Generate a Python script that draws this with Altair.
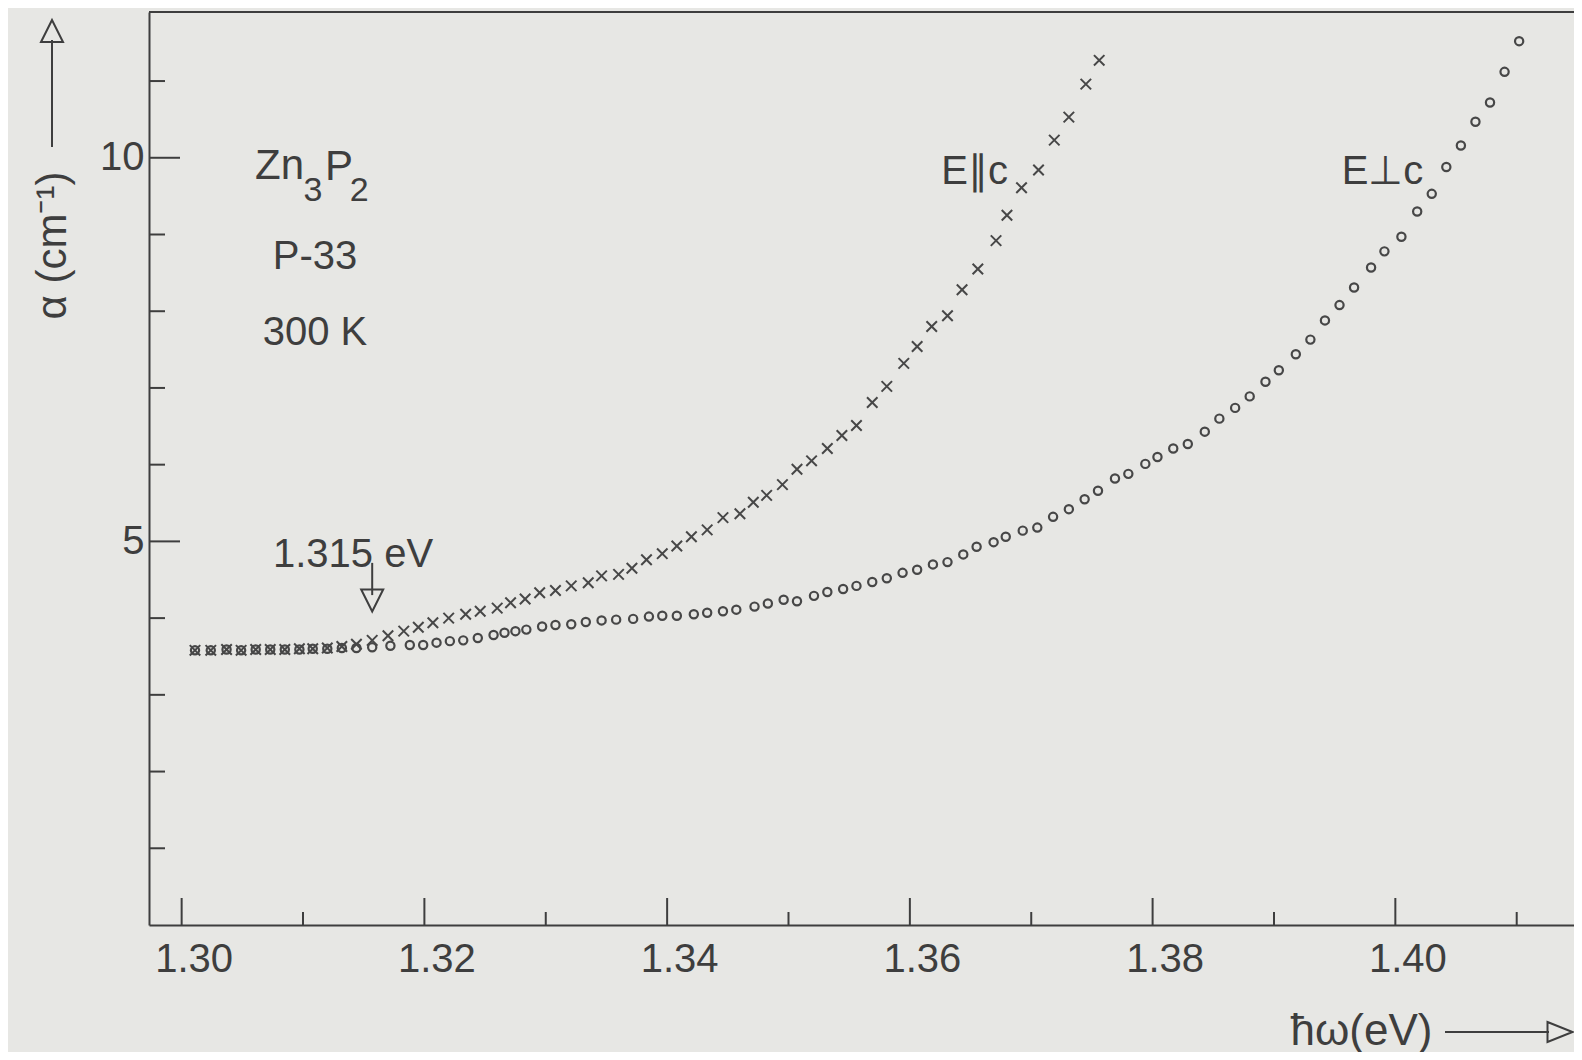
import altair as alt
import pandas as pd

# ---------------- data ----------------
# E || c  (crosses)
par_x = [1.3011, 1.3024, 1.3037, 1.3049, 1.3061, 1.3073, 1.3085, 1.3097, 1.3108, 1.3120,
         1.3132, 1.3144, 1.3157, 1.3170, 1.3183, 1.3195, 1.3207, 1.3220, 1.3234, 1.3246,
         1.3260, 1.3271, 1.3283, 1.3295, 1.3308, 1.3321, 1.3335, 1.3346, 1.3360, 1.3371,
         1.3383, 1.3396, 1.3408, 1.3420, 1.3433, 1.3446, 1.3460, 1.3471, 1.3482, 1.3495,
         1.3507, 1.3519, 1.3532, 1.3544, 1.3556, 1.3569, 1.3581, 1.3595, 1.3606, 1.3618,
         1.3631, 1.3643, 1.3656, 1.3671, 1.3680, 1.3692, 1.3706, 1.3719, 1.3731, 1.3745,
         1.3756]
par_y = [3.58, 3.58, 3.59, 3.58, 3.59, 3.59, 3.59, 3.60, 3.60, 3.61,
         3.63, 3.66, 3.71, 3.77, 3.83, 3.88, 3.94, 4.00, 4.05, 4.09,
         4.13, 4.20, 4.25, 4.33, 4.36, 4.42, 4.46, 4.55, 4.57, 4.65,
         4.76, 4.84, 4.94, 5.06, 5.15, 5.31, 5.36, 5.51, 5.60, 5.74,
         5.94, 6.05, 6.21, 6.38, 6.51, 6.81, 7.02, 7.32, 7.54, 7.80,
         7.94, 8.28, 8.55, 8.92, 9.25, 9.61, 9.84, 10.23, 10.53, 10.96,
         11.27]

# E _|_ c  (circles)
perp_x = [1.3011, 1.3024, 1.3037, 1.3049, 1.3061, 1.3073, 1.3085, 1.3097, 1.3108, 1.3120,
          1.3132, 1.3144, 1.3157, 1.3172, 1.3188, 1.3199, 1.3210, 1.3221, 1.3232, 1.3244,
          1.3257, 1.3266, 1.3275, 1.3284, 1.3297, 1.3308, 1.3321, 1.3333, 1.3346, 1.3358,
          1.3372, 1.3385, 1.3396, 1.3408, 1.3422, 1.3433, 1.3446, 1.3457, 1.3472, 1.3483,
          1.3496, 1.3507, 1.3521, 1.3532, 1.3545, 1.3556, 1.3569, 1.3581, 1.3594, 1.3606,
          1.3619, 1.3631, 1.3644, 1.3655, 1.3669, 1.3679, 1.3693, 1.3705, 1.3718, 1.3731,
          1.3744, 1.3755, 1.3769, 1.3780, 1.3794, 1.3804, 1.3817, 1.3829, 1.3843, 1.3855,
          1.3868, 1.3880, 1.3893, 1.3904, 1.3918, 1.3930, 1.3942, 1.3954, 1.3966, 1.3980,
          1.3991, 1.4005, 1.4018, 1.4030, 1.4042, 1.4054, 1.4066, 1.4078, 1.4090, 1.4102]
perp_y = [3.58, 3.58, 3.59, 3.58, 3.59, 3.59, 3.59, 3.59, 3.60, 3.60,
          3.61, 3.61, 3.62, 3.64, 3.65, 3.65, 3.68, 3.70, 3.71, 3.74,
          3.78, 3.81, 3.83, 3.85, 3.89, 3.91, 3.92, 3.95, 3.97, 3.98,
          3.99, 4.02, 4.03, 4.03, 4.05, 4.07, 4.09, 4.11, 4.15, 4.19,
          4.24, 4.22, 4.29, 4.34, 4.38, 4.42, 4.47, 4.52, 4.59, 4.63,
          4.70, 4.73, 4.83, 4.93, 4.99, 5.06, 5.14, 5.18, 5.32, 5.42,
          5.55, 5.66, 5.82, 5.88, 6.01, 6.10, 6.21, 6.27, 6.43, 6.60,
          6.74, 6.89, 7.08, 7.23, 7.44, 7.63, 7.88, 8.08, 8.31, 8.57,
          8.78, 8.97, 9.30, 9.53, 9.88, 10.16, 10.47, 10.72, 11.12, 11.52]

# axis ticks
x_ticks_major = [1.30, 1.32, 1.34, 1.36, 1.38, 1.40]
x_ticks_minor = [1.31, 1.33, 1.35, 1.37, 1.39, 1.41]
y_ticks_major = [5, 10]
y_ticks_minor = [1, 2, 3, 4, 6, 7, 8, 9, 11]

# annotations (data coordinates)
ann_text = ["P-33", "300 K", "1.315 eV", "E\u2225c", "E\u22a5c"]
ann_x = [1.31099, 1.31099, 1.31412, 1.36533, 1.39894]
ann_y = [8.544, 7.566, 4.671, 9.652, 9.652]

formula_main = ["Zn", "P"]
formula_main_x = [1.30605, 1.31182]
formula_main_y = [9.717, 9.704]
formula_sub = ["3", "2"]
formula_sub_x = [1.31005, 1.31385]
formula_sub_y = [9.440, 9.440]

marker_x = [1.3157]
marker_y_top = [4.72]
marker_y_bot = [4.30]
marker_head_y = [4.23]

# ---------------- styling ----------------
W, H = 1425, 913
BG = "#e7e7e4"
INK = "#3e3e3e"
MARK = "#474747"
FONT = "Liberation Sans"

xs = alt.Scale(domain=[1.29731, 1.41472], nice=False, zero=False)
ys = alt.Scale(domain=[0, 11.9], nice=False, zero=False)

par_df = pd.DataFrame({"x": par_x, "y": par_y})
perp_df = pd.DataFrame({"x": perp_x, "y": perp_y})
one = pd.DataFrame({"a": [0]})

x_axis = alt.Axis(values=x_ticks_major, format=".2f", title="\u0127\u03c9(eV)",
                  labelFontSize=40, labelPadding=14, labelOffset=12, labelFlush=False,
                  titleFontSize=44, titleX=1212, titleY=106, titleAlign="center",
                  titleBaseline="middle", titleAnchor="start")
y_axis = alt.Axis(values=y_ticks_major, format="d", title="\u03b1 (cm\u207b\u00b9)",
                  labelFontSize=40, labelPadding=5, labelFlush=False,
                  titleFontSize=42, titleAngle=270, titleX=-97, titleY=233,
                  titleAlign="center", titleBaseline="middle", titleAnchor="start")


def X(field):
    return alt.X(field, scale=xs, axis=x_axis)


def Y(field):
    return alt.Y(field, scale=ys, axis=y_axis)


crosses = alt.Chart(par_df).mark_point(
    shape="M-1,-1L1,1M-1,1L1,-1", filled=False, size=110, strokeWidth=2,
    color=MARK, opacity=1
).encode(x=X("x:Q"), y=Y("y:Q"))

circles = alt.Chart(perp_df).mark_point(
    shape="circle", filled=False, size=68, strokeWidth=2.2, color=MARK, opacity=1
).encode(x=X("x:Q"), y=Y("y:Q"))

top_border = alt.Chart(one).mark_rule(color=INK, strokeWidth=2).encode(
    x=alt.value(0), x2=alt.value(W), y=alt.value(0))

xt_major = alt.Chart(pd.DataFrame({"x": x_ticks_major})).mark_rule(color=INK, strokeWidth=2).encode(
    x=X("x:Q"), y=alt.value(H), y2=alt.value(H - 27))
xt_minor = alt.Chart(pd.DataFrame({"x": x_ticks_minor})).mark_rule(color=INK, strokeWidth=2).encode(
    x=X("x:Q"), y=alt.value(H), y2=alt.value(H - 13))
yt_major = alt.Chart(pd.DataFrame({"y": y_ticks_major})).mark_rule(color=INK, strokeWidth=2).encode(
    y=Y("y:Q"), x=alt.value(0), x2=alt.value(31))
yt_minor = alt.Chart(pd.DataFrame({"y": y_ticks_minor})).mark_rule(color=INK, strokeWidth=2).encode(
    y=Y("y:Q"), x=alt.value(0), x2=alt.value(16))

ann = alt.Chart(pd.DataFrame({"t": ann_text, "x": ann_x, "y": ann_y})).mark_text(
    font=FONT, fontSize=40, color=INK, align="center", baseline="alphabetic"
).encode(x=X("x:Q"), y=Y("y:Q"), text="t:N")

f_main = alt.Chart(pd.DataFrame({"t": formula_main, "x": formula_main_x, "y": formula_main_y})).mark_text(
    font=FONT, fontSize=42, color=INK, align="left", baseline="alphabetic"
).encode(x=X("x:Q"), y=Y("y:Q"), text="t:N")

f_sub = alt.Chart(pd.DataFrame({"t": formula_sub, "x": formula_sub_x, "y": formula_sub_y})).mark_text(
    font=FONT, fontSize=34, color=INK, align="left", baseline="alphabetic"
).encode(x=X("x:Q"), y=Y("y:Q"), text="t:N")

mk_df = pd.DataFrame({"x": marker_x, "y": marker_y_top, "y2": marker_y_bot, "yh": marker_head_y})
mk_line = alt.Chart(mk_df).mark_rule(color=INK, strokeWidth=2).encode(
    x=X("x:Q"), y=Y("y:Q"), y2="y2:Q")
mk_head = alt.Chart(mk_df).mark_point(
    shape="M-1,-1L0,1L1,-1Z", filled=False, size=484, strokeWidth=2, color=INK, opacity=1
).encode(x=X("x:Q"), y=Y("yh:Q"))

# axis-title arrows
xa_line = alt.Chart(one).mark_rule(color=INK, strokeWidth=2).encode(
    x=alt.value(1296), x2=alt.value(1400), y=alt.value(1020))
xa_head = alt.Chart(one).mark_point(
    shape="M-1,-0.8L1,0L-1,0.8Z", filled=False, size=625, strokeWidth=2, color=INK, opacity=1
).encode(x=alt.value(1411), y=alt.value(1020))
ya_line = alt.Chart(one).mark_rule(color=INK, strokeWidth=2).encode(
    x=alt.value(-97), y=alt.value(28), y2=alt.value(135))
ya_head = alt.Chart(one).mark_point(
    shape="M-1,1L0,-1L1,1Z", filled=False, size=484, strokeWidth=2, color=INK, opacity=1
).encode(x=alt.value(-97), y=alt.value(19))

chart = alt.layer(
    crosses, circles, top_border, xt_major, xt_minor, yt_major, yt_minor,
    ann, f_main, f_sub, mk_line, mk_head,
    xa_line, xa_head, ya_line, ya_head
).properties(
    width=W, height=H,
    autosize=alt.AutoSizeParams(type="none"),
    padding={"left": 141, "top": 4, "right": 0, "bottom": 127},
    background=BG,
).configure_axis(
    labelFont=FONT, titleFont=FONT, labelColor=INK, titleColor=INK,
    domainColor=INK, domainWidth=2, ticks=False, grid=False, titleFontWeight="normal"
).configure_view(stroke="transparent")

chart.save("out.html", embed_options={"renderer": "svg", "actions": False})
